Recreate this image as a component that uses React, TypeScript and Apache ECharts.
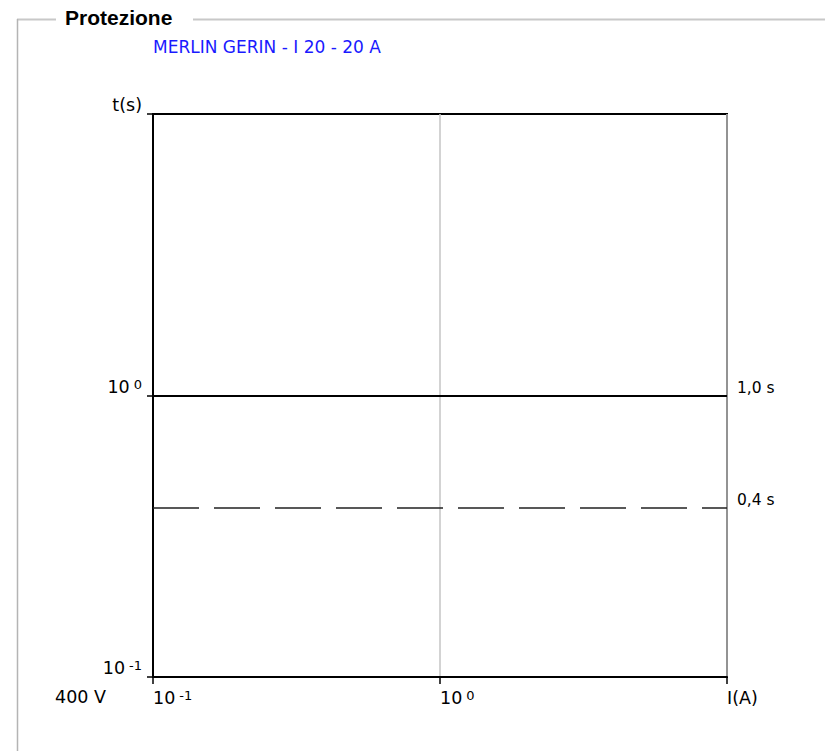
import React, { useEffect, useRef } from "react";
import * as echarts from "echarts";

// ---- data ----
const panelTitle = "Protezione";
const deviceName = "MERLIN GERIN - I 20 - 20 A";
const voltageLabel = "400 V";

const xMin = 0.1;
const xMax = 10;
const yMin = 0.1;
const yMax = 10;

const xTickValues = [0.1, 1, 10];
const xTickBase = ["10", "10", "I(A)"];
const xTickExp = ["-1", "0", ""];

const yTickValues = [0.1, 1, 10];
const yTickBase = ["10", "10", "t(s)"];
const yTickExp = ["-1", "0", ""];

const tripTimes = [1.0, 0.4];
const tripLabels = ["1,0 s", "0,4 s"];
const tripDashed = [false, true];

const FONT = "DejaVu Sans, Verdana, sans-serif";

function makeFormatter(values: number[], base: string[], exp: string[]) {
  return (v: number) => {
    let idx = 0;
    let best = Infinity;
    values.forEach((t, i) => {
      const d = Math.abs(Math.log10(v) - Math.log10(t));
      if (d < best) {
        best = d;
        idx = i;
      }
    });
    if (best > 1e-6) return "";
    return exp[idx] ? `{b|${base[idx]}}{s|${exp[idx]}}` : `{b|${base[idx]}}`;
  };
}

const richStyles = {
  b: { fontSize: 17.5, fontFamily: FONT, color: "#000", verticalAlign: "bottom" },
  s: { fontSize: 13, fontFamily: FONT, color: "#000", verticalAlign: "top", padding: [0, 0, 0, 4] },
};

export default function App() {
  const ref = useRef<HTMLDivElement>(null);

  useEffect(() => {
    if (!ref.current) return;
    const chart = echarts.init(ref.current, undefined, { renderer: "svg" });
    const option: any = {
      animation: false,
      backgroundColor: "#fff",
      grid: {
        left: 153,
        right: 98,
        top: 114,
        bottom: 74,
        show: true,
        borderColor: "#000",
        borderWidth: 2,
        backgroundColor: "transparent",
      },
      xAxis: {
        type: "log",
        logBase: 10,
        min: xMin,
        max: xMax,
        axisLine: { show: true, lineStyle: { color: "#000", width: 2 } },
        axisTick: { show: true, length: 7, lineStyle: { color: "#000", width: 1.5 } },
        minorTick: { show: false },
        splitLine: { show: true, lineStyle: { color: "#c4c4c4", width: 1.5 } },
        axisLabel: {
          formatter: makeFormatter(xTickValues, xTickBase, xTickExp),
          rich: richStyles,
          align: "left",
          verticalAlign: "top",
          margin: 12,
          showMinLabel: true,
          showMaxLabel: true,
        },
      },
      yAxis: {
        type: "log",
        logBase: 10,
        min: yMin,
        max: yMax,
        axisLine: { show: true, lineStyle: { color: "#000", width: 2 } },
        axisTick: { show: true, length: 6, lineStyle: { color: "#000", width: 1.5 } },
        minorTick: { show: false },
        splitLine: { show: false },
        axisLabel: {
          formatter: makeFormatter(yTickValues, yTickBase, yTickExp),
          rich: richStyles,
          align: "right",
          verticalAlign: "bottom",
          margin: 11,
          showMinLabel: true,
          showMaxLabel: true,
        },
      },
      series: [
        {
          type: "line",
          data: [],
          silent: true,
          markLine: {
            silent: true,
            symbol: ["none", "none"],
            animation: false,
            data: tripTimes.map((t, i) => ({
              yAxis: t,
              lineStyle: tripDashed[i]
                ? { color: "#222", width: 1.5, type: [46, 15] }
                : { color: "#000", width: 2, type: "solid" },
              label: {
                show: true,
                position: "end",
                formatter: tripLabels[i],
                distance: 10,
                color: "#000",
                fontFamily: FONT,
                fontSize: 15.5,
                verticalAlign: "bottom",
                align: "left",
              },
            })),
          },
        },
      ],
      graphic: [
        {
          type: "line",
          shape: { x1: 17, y1: 19.5, x2: 56, y2: 19.5 },
          style: { stroke: "#c8c8c8", lineWidth: 2 },
          silent: true,
        },
        {
          type: "line",
          shape: { x1: 193, y1: 19.5, x2: 825, y2: 19.5 },
          style: { stroke: "#c8c8c8", lineWidth: 2 },
          silent: true,
        },
        {
          type: "line",
          shape: { x1: 17.5, y1: 19, x2: 17.5, y2: 751 },
          style: { stroke: "#b4b4b4", lineWidth: 1.5 },
          silent: true,
        },
        {
          type: "text",
          x: 65,
          y: 17,
          style: {
            text: panelTitle,
            font: "bold 21px 'Liberation Sans', Arial, sans-serif",
            fill: "#000",
            verticalAlign: "middle",
          },
          silent: true,
        },
        {
          type: "text",
          x: 153,
          y: 47,
          style: {
            text: deviceName,
            font: `17px ${FONT}`,
            fill: "#1a1aff",
            verticalAlign: "middle",
          },
          silent: true,
        },
        {
          type: "text",
          x: 55,
          y: 697,
          style: {
            text: voltageLabel,
            font: `17.5px ${FONT}`,
            fill: "#000",
            verticalAlign: "middle",
          },
          silent: true,
        },
      ],
    };
    chart.setOption(option);
    return () => chart.dispose();
  }, []);

  return (
    <div
      ref={ref}
      style={{ position: "fixed", left: 0, top: 0, width: 825, height: 751 }}
    />
  );
}
